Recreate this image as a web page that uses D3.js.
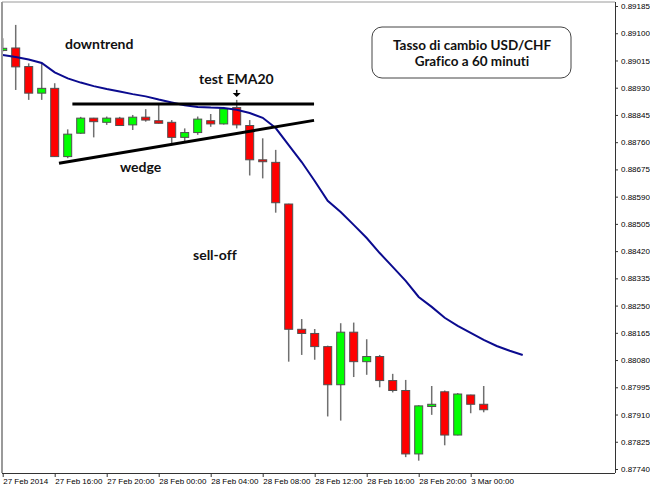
<!DOCTYPE html>
<html>
<head>
<meta charset="utf-8">
<script src="https://cdn.jsdelivr.net/npm/d3@7/dist/d3.min.js"></script>
<style>
body { margin: 0; background: #fff; }
svg { display: block; }
text { font-variant-ligatures: none; }
</style>
</head>
<body>
<svg width="650" height="488"></svg>
<script>
// hourly bars, 27 Feb 2014 12:00 .. 3 Mar 2014 01:00
var open  = [0.89046,0.89054,0.88996,0.88913,0.88928,0.88715,0.88788,0.88835,0.88822,0.88835,0.88814,0.88838,0.88827,0.88822,0.88775,0.88790,0.88827,0.88817,0.88868,0.88812,0.88705,0.88697,0.88567,0.88176,0.88163,0.88122,0.88003,0.88167,0.88075,0.88091,0.88016,0.87985,0.87787,0.87935,0.87981,0.87846,0.87971,0.87942];
var high  = [0.89084,0.89126,0.89006,0.89008,0.88944,0.88800,0.88839,0.88836,0.88840,0.88839,0.88845,0.88863,0.88876,0.88829,0.88803,0.88840,0.88848,0.88870,0.88892,0.88829,0.88772,0.88736,0.88568,0.88208,0.88177,0.88125,0.88195,0.88197,0.88145,0.88096,0.88037,0.88018,0.87939,0.87999,0.87985,0.87977,0.87972,0.87999];
var low   = [0.89043,0.88923,0.88892,0.88892,0.88714,0.88710,0.88786,0.88775,0.88814,0.88811,0.88798,0.88824,0.88818,0.88757,0.88762,0.88783,0.88808,0.88815,0.88803,0.88656,0.88647,0.88540,0.88075,0.88096,0.88081,0.87904,0.87891,0.88027,0.88034,0.87995,0.87979,0.87777,0.87766,0.87909,0.87814,0.87845,0.87914,0.87917];
var close = [0.89053,0.88995,0.88913,0.88928,0.88715,0.88785,0.88835,0.88824,0.88835,0.88812,0.88838,0.88829,0.88819,0.88775,0.88790,0.88832,0.88817,0.88864,0.88814,0.88705,0.88699,0.88571,0.88176,0.88163,0.88122,0.88003,0.88167,0.88075,0.88091,0.88016,0.87985,0.87787,0.87937,0.87942,0.87846,0.87974,0.87942,0.87925];

// EMA20 as drawn
var ema20 = [0.89032,0.89026,0.89018,0.89007,0.88978,0.88959,0.88946,0.88935,0.88926,0.88918,0.88910,0.88903,0.88893,0.88884,0.88875,0.88870,0.88868,0.88867,0.88861,0.88851,0.88836,0.88804,0.88751,0.88698,0.88639,0.88577,0.88542,0.88502,0.88461,0.88414,0.88371,0.88327,0.88277,0.88246,0.88212,0.88187,0.88165,0.88143,0.88124,0.88109,0.88096];

var xTickIdx = [0,4,8,12,16,20,24,28,32,36];
var xTickLabels = ["27 Feb 2014","27 Feb 16:00","27 Feb 20:00","28 Feb 00:00","28 Feb 04:00","28 Feb 08:00","28 Feb 12:00","28 Feb 16:00","28 Feb 20:00","3 Mar 00:00"];
var yTicks = [0.89185,0.89100,0.89015,0.88930,0.88845,0.88760,0.88675,0.88590,0.88505,0.88420,0.88335,0.88250,0.88165,0.88080,0.87995,0.87910,0.87825,0.87740];

// trend lines: [bar index, price]
var resistance = [[5.36, 0.88879], [23.95, 0.88879]];
var wedgeLine = [[4.33, 0.88694], [23.95, 0.88828]];

var svg = d3.select("svg"),
  pl = 2, pt = 2, pr = 615, pb = 473;

var x = d3.scaleLinear().domain([0, 47]).range([2.7, 613.7]);
var y = d3.scaleLinear().domain([0.87740, 0.89185]).range([469, 6]);

svg.append("defs").append("clipPath").attr("id", "plot")
  .append("rect").attr("x", pl).attr("y", pt)
  .attr("width", pr - pl).attr("height", pb - pt);

var g = svg.append("g").attr("clip-path", "url(#plot)");

var bars = d3.range(open.length);

// wicks
g.append("g").selectAll("line")
  .data(bars)
  .enter().append("line")
    .attr("x1", function(i) { return x(i); })
    .attr("x2", function(i) { return x(i); })
    .attr("y1", function(i) { return y(high[i]); })
    .attr("y2", function(i) { return y(low[i]); })
    .attr("stroke", "#707070")
    .attr("stroke-width", 1.5);

// bodies
g.append("g").selectAll("rect")
  .data(bars)
  .enter().append("rect")
    .attr("x", function(i) { return x(i) - 4; })
    .attr("width", 8)
    .attr("y", function(i) { return y(Math.max(open[i], close[i])); })
    .attr("height", function(i) { return Math.max(1.5, Math.abs(y(open[i]) - y(close[i]))); })
    .attr("fill", function(i) { return close[i] >= open[i] ? "#00ff00" : "#ff0000"; })
    .attr("stroke", "#505050")
    .attr("stroke-width", 1);

// ema
var line = d3.line()
  .x(function(d, i) { return x(i); })
  .y(function(d) { return y(d); });

g.append("path")
  .datum(ema20)
  .attr("d", line)
  .attr("fill", "none")
  .attr("stroke", "#0b0b8f")
  .attr("stroke-width", 2);

// trend lines
var tl = d3.line()
  .x(function(d) { return x(d[0]); })
  .y(function(d) { return y(d[1]); });

[resistance, wedgeLine].forEach(function(p) {
  g.append("path")
    .attr("d", tl(p))
    .attr("stroke", "#000")
    .attr("stroke-width", 3)
    .attr("fill", "none");
});

// arrow over the EMA test bar
var ax = x(18), ay = y(high[18]) - 3;
g.append("path")
  .attr("d", "M" + (ax - 4) + "," + (ay - 4) + "L" + (ax + 4) + "," + (ay - 4) + "L" + ax + "," + ay + "Z")
  .attr("fill", "#000");
g.append("line")
  .attr("x1", ax).attr("x2", ax)
  .attr("y1", ay - 7).attr("y2", ay - 4)
  .attr("stroke", "#000").attr("stroke-width", 1.5);

// frame
svg.append("line").attr("x1", pl).attr("x2", pl).attr("y1", pt).attr("y2", pb)
  .attr("stroke", "#9a9a9a").attr("stroke-width", 2);
svg.append("line").attr("x1", pl).attr("x2", pr).attr("y1", pt).attr("y2", pt)
  .attr("stroke", "#9a9a9a").attr("stroke-width", 1);

// right axis
var yAxis = svg.append("g")
  .attr("transform", "translate(" + pr + ",0)")
  .call(d3.axisRight(y).tickValues(yTicks).tickSize(3).tickPadding(3)
    .tickFormat(d3.format(".5f")));
yAxis.select(".domain").attr("d", "M0.5," + pt + "V" + pb).attr("stroke", "#333");
yAxis.selectAll(".tick line").attr("stroke", "#333");
yAxis.selectAll("text")
  .attr("font-family", "Liberation Sans, sans-serif")
  .attr("font-size", 8)
  .attr("fill", "#000");

// bottom axis
var xAxis = svg.append("g")
  .attr("transform", "translate(0," + pb + ")")
  .call(d3.axisBottom(x).tickValues(xTickIdx).tickSize(4)
    .tickFormat(function(d, i) { return xTickLabels[i]; }));
xAxis.select(".domain").attr("d", "M" + pl + ",0.5H" + pr).attr("stroke", "#333");
xAxis.selectAll(".tick line").attr("stroke", "#333");
xAxis.selectAll("text")
  .attr("text-anchor", "start")
  .attr("y", 5)
  .attr("dy", "0.71em")
  .attr("font-family", "Liberation Sans, sans-serif")
  .attr("font-size", 8)
  .attr("fill", "#000");

// labels
var notes = [
  {t: "downtrend", x: 65, y: 49},
  {t: "test EMA20", x: 199, y: 84},
  {t: "wedge", x: 120, y: 172},
  {t: "sell-off", x: 193, y: 260}
];
svg.append("g")
  .attr("font-family", "Lato, sans-serif")
  .attr("font-weight", "bold")
  .attr("font-size", 14)
  .attr("fill", "#111")
  .selectAll("text")
  .data(notes)
  .enter().append("text")
    .attr("x", function(d) { return d.x; })
    .attr("y", function(d) { return d.y; })
    .text(function(d) { return d.t; });

// title box
var box = svg.append("g");
box.append("rect")
  .attr("x", 372).attr("y", 27)
  .attr("width", 199).attr("height", 51)
  .attr("rx", 10)
  .attr("fill", "#fff")
  .attr("stroke", "#444")
  .attr("stroke-width", 1);
box.append("g")
  .attr("font-family", "Lato, sans-serif")
  .attr("font-weight", "bold")
  .attr("font-size", 13.5)
  .attr("fill", "#111")
  .attr("text-anchor", "middle")
  .selectAll("text")
  .data(["Tasso di cambio USD/CHF", "Grafico a 60 minuti"])
  .enter().append("text")
    .attr("x", 472)
    .attr("y", function(d, i) { return 49.5 + i * 16; })
    .text(function(d) { return d; });
</script>
</body>
</html>
